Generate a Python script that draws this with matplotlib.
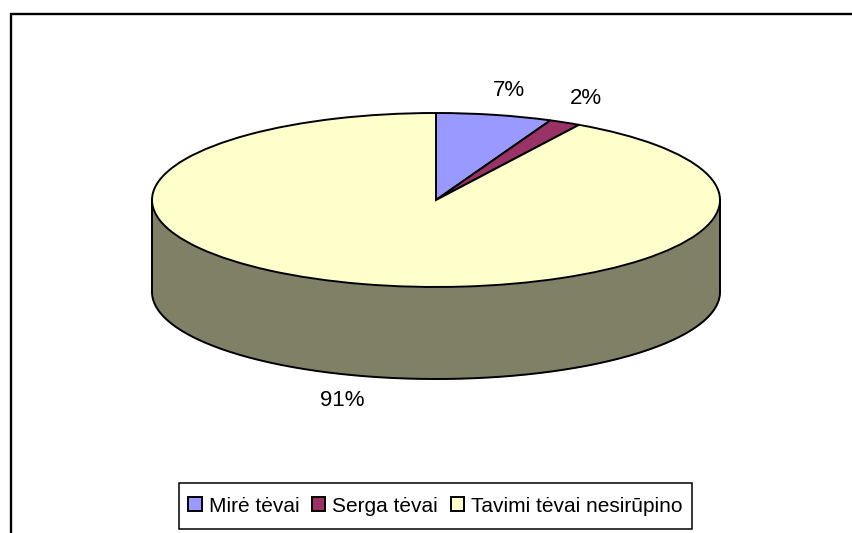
import matplotlib
matplotlib.use('Agg')
import matplotlib.pyplot as plt
import numpy as np
from matplotlib.lines import Line2D
from matplotlib.patches import Rectangle

# Duomenys
categories = ['Mirė tėvai', 'Serga tėvai', 'Tavimi tėvai nesirūpino']
shares = [6.6, 1.8, 91.6]  # as measured on the drawn slices
pct_labels = ['7%', '2%', '91%']
colors = ['#9999FF', '#993366', '#FFFFCC']
side_color = '#808066'

W, H = 852, 533
plt.rcParams['font.family'] = ['Liberation Sans', 'DejaVu Sans']

fig = plt.figure(figsize=(W / 100, H / 100), dpi=100)

# outer chart frame, cut off at the right and bottom of the image
fig.add_artist(Line2D([10.5 / W, 10.5 / W, 1], [0, 1 - 13.5 / H, 1 - 13.5 / H],
                      color='black', lw=1.7, solid_joinstyle='miter'))

# the axes box is exactly the top ellipse
ax = fig.add_axes([152 / W, 1 - 287 / H, 568 / W, 174 / H])
wedges, _ = ax.pie(shares, colors=colors, startangle=90, counterclock=False,
                   radius=1, wedgeprops={'edgecolor': 'black', 'linewidth': 1.4, 'zorder': 3})
ax.set_aspect('auto')
ax.set_xlim(-1, 1)
ax.set_ylim(-1, 1)
ax.axis('off')

# cylinder side below the top face
depth = 92 / 87
t = np.linspace(np.pi, 2 * np.pi, 200)
ax.fill_between(np.cos(t), np.sin(t), np.sin(t) - depth, color=side_color, lw=0, zorder=1, clip_on=False)
ax.plot(np.cos(t), np.sin(t) - depth, color='black', lw=1.4, zorder=2, clip_on=False)
ax.plot([-1, -1], [0, -depth], color='black', lw=1.4, zorder=2, clip_on=False)
ax.plot([1, 1], [0, -depth], color='black', lw=1.4, zorder=2, clip_on=False)

# percentage labels
for txt, (px, py) in zip(pct_labels, [(509, 90), (586, 98), (342, 400)]):
    fig.text(px / W, 1 - py / H, txt, ha='center', va='center', fontsize=16, color='black')

# legend box is taller than the text padding allows, so it is drawn on its own
fig.add_artist(Rectangle((179 / W, 1 - 529 / H), 513 / W, 46 / H, transform=fig.transFigure,
                         facecolor='white', edgecolor='black', lw=1.1, zorder=1))
leg = fig.legend(wedges, categories, ncol=3, loc='center',
                 bbox_to_anchor=(435.5 / W, 1 - 506 / H), fontsize=15, frameon=False,
                 handlelength=0.625, handleheight=0.625, handletextpad=0.34,
                 columnspacing=0.62, borderpad=0, borderaxespad=0)

fig.savefig('out.png', dpi=100)
